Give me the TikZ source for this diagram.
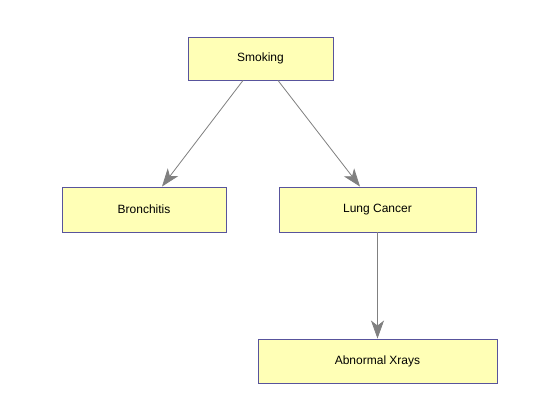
\documentclass[tikz,border=0pt]{standalone}
\usepackage{fontspec}
\setmainfont{Liberation Sans}
\usetikzlibrary{arrows.meta}
\definecolor{boxfill}{RGB}{255,255,182}
\definecolor{boxline}{RGB}{88,84,156}
\definecolor{edgegray}{RGB}{128,128,128}

\begin{document}
\begin{tikzpicture}[x=1pt,y=-1pt,
    var/.style={draw=boxline,fill=boxfill,line width=0.9pt,inner sep=0pt,
        font=\fontsize{12}{14}\selectfont},
    edge/.style={draw=edgegray,line width=0.8pt,
        -{Stealth[length=18pt,width=13pt,inset=5pt]}}]
    \useasboundingbox[fill=white] (0,0) rectangle (560,420);

    % Variables
    \node[var,minimum width=145pt,minimum height=43pt] (smoking) at (260.5,58.5) {Smoking};
    \node[var,minimum width=164pt,minimum height=45pt] (bronchitis) at (144,209.5) {Bronchitis};
    \node[var,minimum width=197pt,minimum height=45pt] (cancer) at (377.5,209.5) {Lung Cancer};
    \node[var,minimum width=239pt,minimum height=44pt] (xrays) at (377.5,361) {Abnormal Xrays};

    % Arcs
    \draw[edge] ([xshift=-17.5pt]smoking.south) -- ([xshift=18pt]bronchitis.north);
    \draw[edge] ([xshift=17.5pt]smoking.south) -- ([xshift=-17.5pt]cancer.north);
    \draw[edge] (cancer.south) -- (xrays.north);
\end{tikzpicture}
\end{document}
